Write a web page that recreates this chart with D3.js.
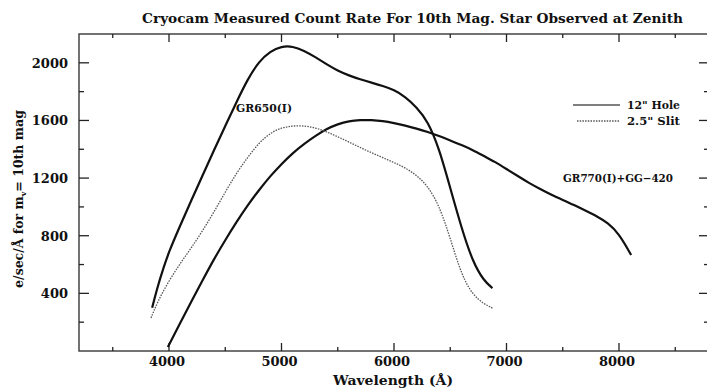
<!DOCTYPE html>
<meta charset="utf-8">
<head>
<style>
  body { margin: 0; background: #fff; }
  text { font-family: "DejaVu Serif", serif; font-weight: bold; fill: #111; }
</style>
</head>
<body>
<script src="https://cdn.jsdelivr.net/npm/d3@7"></script>
<script>

// GR650(I), 12" hole
const holeWl  = [3850, 3900, 3950, 4000, 4100, 4200, 4300, 4400, 4500, 4600, 4700, 4800, 4900, 5000, 5100, 5200, 5300, 5400, 5500, 5600, 5700, 5800, 5900, 6000, 6100, 6200, 6300, 6400, 6500, 6600, 6700, 6800, 6875];
const holeVal = [300, 450, 575, 690, 872, 1048, 1221, 1395, 1561, 1728, 1888, 2010, 2080, 2115, 2115, 2085, 2040, 1990, 1945, 1912, 1885, 1862, 1840, 1812, 1765, 1693, 1596, 1409, 1131, 854, 618, 486, 437];

// GR650(I), 2.5" slit
const slitWl  = [3840, 3900, 4000, 4100, 4200, 4300, 4400, 4500, 4600, 4700, 4800, 4900, 5000, 5100, 5200, 5300, 5400, 5500, 5600, 5700, 5800, 5900, 6000, 6100, 6200, 6300, 6400, 6500, 6600, 6700, 6800, 6875];
const slitVal = [229, 345, 488, 608, 718, 836, 965, 1103, 1235, 1345, 1445, 1513, 1550, 1563, 1563, 1550, 1522, 1487, 1450, 1412, 1376, 1342, 1308, 1272, 1221, 1145, 1013, 784, 527, 389, 326, 298];

// GR770(I)+GG-420
const redWl  = [3990, 4100, 4200, 4300, 4400, 4500, 4600, 4700, 4800, 4900, 5000, 5100, 5200, 5300, 5400, 5500, 5600, 5700, 5800, 5900, 6000, 6100, 6200, 6300, 6400, 6500, 6600, 6700, 6800, 6900, 7000, 7100, 7200, 7300, 7400, 7500, 7600, 7700, 7800, 7900, 8000, 8108];
const redVal = [28, 194, 347, 493, 638, 770, 895, 1013, 1117, 1214, 1298, 1374, 1437, 1492, 1541, 1575, 1596, 1603, 1603, 1596, 1582, 1565, 1544, 1520, 1492, 1461, 1430, 1395, 1353, 1312, 1263, 1214, 1166, 1124, 1083, 1048, 1013, 975, 937, 890, 815, 666];

const xMajor = [4000, 5000, 6000, 7000, 8000];
const yMajor = [400, 800, 1200, 1600, 2000];

const W = 707, H = 390;
const svg = d3.select("body").append("svg")
  .attr("width", W).attr("height", H);

const x = d3.scaleLinear().domain([3200, 8800]).range([79, 709]);
const y = d3.scaleLinear().domain([0, 2200]).range([351, 34]);

const frame = svg.append("g");
frame.append("rect")
  .attr("x", x(3200)).attr("y", y(2200))
  .attr("width", x(8800) - x(3200)).attr("height", y(0) - y(2200))
  .attr("fill", "none").attr("stroke", "#444").attr("stroke-width", 1.5);

// inward ticks on all four sides
const xMinor = d3.range(3500, 8800, 500).filter(d => !xMajor.includes(d));
const yMinor = d3.range(200, 2200, 200).filter(d => !yMajor.includes(d));

function xTicks(vals, len) {
  frame.selectAll(null).data(vals).join("line")
    .attr("x1", d => x(d)).attr("x2", d => x(d))
    .attr("y1", y(0)).attr("y2", y(0) - len)
    .attr("stroke", "#222").attr("stroke-width", 1.3);
  frame.selectAll(null).data(vals).join("line")
    .attr("x1", d => x(d)).attr("x2", d => x(d))
    .attr("y1", y(2200)).attr("y2", y(2200) + len)
    .attr("stroke", "#222").attr("stroke-width", 1.3);
}
function yTicks(vals, len) {
  frame.selectAll(null).data(vals).join("line")
    .attr("x1", x(3200)).attr("x2", x(3200) + len)
    .attr("y1", d => y(d)).attr("y2", d => y(d))
    .attr("stroke", "#222").attr("stroke-width", 1.3);
  frame.selectAll(null).data(vals).join("line")
    .attr("x1", x(8800)).attr("x2", x(8800) - len)
    .attr("y1", d => y(d)).attr("y2", d => y(d))
    .attr("stroke", "#222").attr("stroke-width", 1.3);
}
xTicks(xMajor, 8); xTicks(xMinor, 4);
yTicks(yMajor, 10); yTicks(yMinor, 5);

svg.selectAll(null).data(xMajor).join("text")
  .attr("x", d => x(d) - 2).attr("y", 366)
  .attr("text-anchor", "middle").attr("font-size", 13)
  .text(d => d);

svg.selectAll(null).data(yMajor).join("text")
  .attr("x", 68).attr("y", d => y(d) + 5)
  .attr("text-anchor", "end").attr("font-size", 13)
  .text(d => d);

// curves (B-spline to keep them smooth like the plotted originals)
const line = d3.line()
  .x(d => x(d[0])).y(d => y(d[1]))
  .curve(d3.curveBasis);

svg.append("path").datum(d3.zip(holeWl, holeVal))
  .attr("d", line).attr("fill", "none")
  .attr("stroke", "#111").attr("stroke-width", 2.2);
svg.append("path").datum(d3.zip(redWl, redVal))
  .attr("d", line).attr("fill", "none")
  .attr("stroke", "#111").attr("stroke-width", 2.2);
svg.append("path").datum(d3.zip(slitWl, slitVal))
  .attr("d", line).attr("fill", "none")
  .attr("stroke", "#555").attr("stroke-width", 1.3)
  .attr("stroke-dasharray", "1.5,1.2");

// legend
const lg = svg.append("g");
lg.append("line").attr("x1", 573).attr("x2", 620).attr("y1", 105).attr("y2", 105)
  .attr("stroke", "#555").attr("stroke-width", 1.6);
lg.append("line").attr("x1", 577).attr("x2", 620).attr("y1", 121).attr("y2", 121)
  .attr("stroke", "#555").attr("stroke-width", 1.3).attr("stroke-dasharray", "1.5,1.2");
lg.append("text").attr("x", 627).attr("y", 109).attr("font-size", 11)
  .attr("textLength", 53).attr("lengthAdjust", "spacingAndGlyphs").text("12\" Hole");
lg.append("text").attr("x", 627).attr("y", 125).attr("font-size", 11)
  .attr("textLength", 53).attr("lengthAdjust", "spacingAndGlyphs").text("2.5\" Slit");

// curve labels
svg.append("text").attr("x", 236).attr("y", 112).attr("font-size", 11)
  .attr("textLength", 56).attr("lengthAdjust", "spacingAndGlyphs").text("GR650(I)");
svg.append("text").attr("x", 563).attr("y", 182).attr("font-size", 11)
  .attr("textLength", 110).attr("lengthAdjust", "spacingAndGlyphs").text("GR770(I)+GG\u2212420");

// title and axis titles
svg.append("text").attr("x", 142).attr("y", 23).attr("font-size", 12.5)
  .attr("textLength", 541).attr("lengthAdjust", "spacingAndGlyphs")
  .text("Cryocam Measured Count Rate For 10th Mag. Star Observed at Zenith");

svg.append("text").attr("x", 333).attr("y", 385).attr("font-size", 12.5)
  .attr("textLength", 120).attr("lengthAdjust", "spacingAndGlyphs")
  .text("Wavelength (\u00c5)");

const yl = svg.append("text")
  .attr("transform", "translate(23,199) rotate(-90)")
  .attr("text-anchor", "middle").attr("font-size", 12.5);
yl.append("tspan").text("e/sec/\u00c5 for m");
yl.append("tspan").attr("font-size", 8).attr("dy", 3).text("v");
yl.append("tspan").attr("dy", -3).text("= 10th mag");

</script>
</body>
